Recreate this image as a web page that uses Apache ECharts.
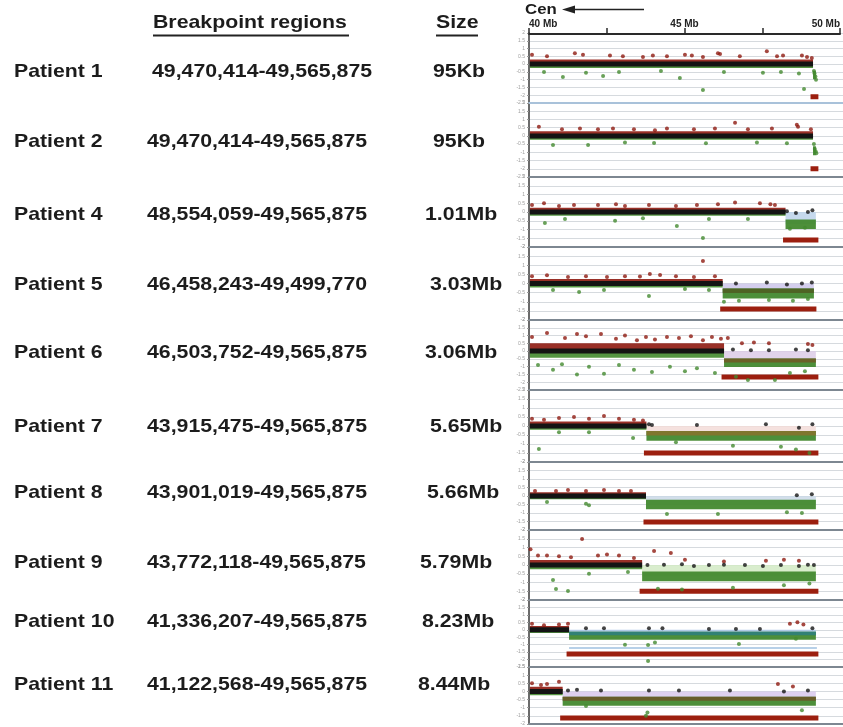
<!DOCTYPE html>
<html>
<head>
<meta charset="utf-8">
<script src="https://cdn.jsdelivr.net/npm/echarts@6/dist/echarts.min.js"></script>
<style>
  html, body { margin: 0; padding: 0; background: #ffffff; }
  #chart { width: 843px; height: 727px; }
</style>
</head>
<body>
<div id="chart"></div>
<script>
// ---- Table columns ----
const patients = ['Patient 1', 'Patient 2', 'Patient 4', 'Patient 5', 'Patient 6',
                  'Patient 7', 'Patient 8', 'Patient 9', 'Patient 10', 'Patient 11'];
const breakpointRegions = [
  '49,470,414-49,565,875', '49,470,414-49,565,875', '48,554,059-49,565,875',
  '46,458,243-49,499,770', '46,503,752-49,565,875', '43,915,475-49,565,875',
  '43,901,019-49,565,875', '43,772,118-49,565,875', '41,336,207-49,565,875',
  '41,122,568-49,565,875'];
const deletionSizes = ['95Kb', '95Kb', '1.01Mb', '3.03Mb', '3.06Mb',
                       '5.65Mb', '5.66Mb', '5.79Mb', '8.23Mb', '8.44Mb'];

// ---- Deleted segments (Mb) ----
const deletionStart = [49.470414, 49.470414, 48.554059, 46.458243, 46.503752,
                       43.915475, 43.901019, 43.772118, 41.336207, 41.122568];
const deletionEnd   = [49.565875, 49.565875, 49.565875, 49.499770, 49.565875,
                       49.565875, 49.565875, 49.565875, 49.565875, 49.565875];
// mean log2 ratio of each deleted segment
const lossLevel   = [-0.7, -0.9, -0.7, -0.55, -0.75, -0.55, -0.5, -0.65, -0.4, -0.6];
// half-width of the probe cloud around 0 in the copy-neutral part
const cloudSpread = [0.3, 0.28, 0.25, 0.25, 0.5, 0.25, 0.22, 0.28, 0.25, 0.28];
// probes covered on the array (Mb)
const probeStart = 40.03;
const probeEnd = 49.6;

// ---- Ruler ----
const rulerLabels = ['40 Mb', '45 Mb', '50 Mb'];
const rulerMarks = [40, 45, 50];

// ---- Individual probes standing out of the clouds: [Mb, log2 ratio] ----
const gainPoints = [
  [[40.1,0.6],[40.6,0.5],[41.53,0.7],[41.8,0.6],[42.7,0.55],[43.13,0.5],[43.8,0.45],[44.13,0.55],[44.6,0.5],[45.2,0.6],[45.43,0.55],[45.8,0.45],[46.3,0.7],[46.37,0.65],[47.03,0.5],[47.93,0.83],[48.27,0.5],[48.47,0.55],[49.1,0.55],[49.27,0.45],[49.43,0.4]],
  [[40.33,0.55],[41.1,0.4],[41.7,0.45],[42.3,0.4],[42.8,0.45],[43.5,0.4],[44.2,0.35],[44.6,0.45],[45.5,0.4],[46.2,0.45],[46.87,0.8],[47.3,0.4],[48.1,0.45],[48.93,0.67],[48.97,0.55],[49.4,0.4]],
  [[40.1,0.4],[40.5,0.5],[41.0,0.35],[41.5,0.4],[42.3,0.4],[42.9,0.45],[43.2,0.35],[44.0,0.4],[44.9,0.35],[45.6,0.4],[46.3,0.45],[46.87,0.55],[47.7,0.5],[48.05,0.45],[48.2,0.4]],
  [[40.1,0.4],[40.6,0.45],[41.3,0.35],[41.9,0.4],[42.6,0.35],[43.2,0.4],[43.7,0.38],[44.03,0.52],[44.37,0.47],[44.9,0.4],[45.5,0.35],[45.8,1.23],[46.2,0.4]],
  [[40.1,0.9],[40.6,1.17],[41.2,0.85],[41.6,1.1],[41.9,0.95],[42.4,1.1],[42.9,0.8],[43.2,1.0],[43.6,0.7],[43.9,0.9],[44.2,0.75],[44.6,0.9],[45.0,0.85],[45.4,0.95],[45.8,0.7],[46.1,0.9],[46.4,0.8],[46.63,0.85],[47.1,0.5],[47.5,0.55],[48.0,0.5],[49.3,0.45],[49.45,0.4]],
  [[40.1,0.4],[40.5,0.35],[41.0,0.45],[41.5,0.5],[42.0,0.4],[42.5,0.55],[43.0,0.4],[43.5,0.35],[43.8,0.3]],
  [[40.2,0.3],[40.9,0.3],[41.3,0.35],[41.9,0.3],[42.5,0.35],[43.0,0.3],[43.4,0.3]],
  [[40.05,0.9],[40.3,0.55],[40.6,0.55],[41.0,0.5],[41.4,0.45],[41.77,1.49],[42.3,0.55],[42.6,0.6],[43.0,0.55],[43.5,0.4],[44.17,0.8],[44.73,0.69],[45.2,0.3],[46.5,0.2],[47.9,0.25],[48.5,0.3],[49.0,0.25]],
  [[40.1,0.4],[40.5,0.3],[41.0,0.35],[41.3,0.4],[48.7,0.4],[48.95,0.5],[49.15,0.35]],
  [[40.1,0.5],[40.4,0.4],[40.6,0.45],[41.0,0.6],[48.3,0.45],[48.8,0.3]]
];
const lossPoints = [
  [[40.5,-0.5],[41.13,-0.83],[41.9,-0.55],[42.47,-0.77],[43.0,-0.5],[44.4,-0.45],[45.03,-0.9],[45.8,-1.67],[46.5,-0.5],[47.8,-0.55],[48.4,-0.5],[49.0,-0.6],[49.17,-1.6],[49.5,-0.45],[49.52,-0.6],[49.55,-0.8],[49.57,-1.0]],
  [[40.8,-0.55],[41.97,-0.55],[43.2,-0.4],[44.17,-0.43],[45.9,-0.45],[47.6,-0.4],[48.6,-0.45],[49.5,-0.5],[49.53,-0.8],[49.56,-0.95],[49.58,-1.05]],
  [[40.53,-0.63],[41.2,-0.4],[42.87,-0.5],[43.8,-0.35],[44.93,-0.8],[45.8,-1.49],[46.0,-0.4],[47.3,-0.4],[48.7,-0.95],[49.2,-0.9]],
  [[40.8,-0.35],[41.67,-0.47],[42.5,-0.35],[44.0,-0.68],[45.2,-0.3],[46.0,-0.35],[46.5,-1.0],[47.0,-0.95],[48.0,-0.9],[48.8,-0.95],[49.3,-0.85]],
  [[40.3,-0.9],[40.8,-1.2],[41.1,-0.85],[41.6,-1.5],[42.0,-1.0],[42.5,-1.45],[43.0,-0.9],[43.5,-1.2],[44.1,-1.35],[44.7,-1.0],[45.2,-1.3],[45.6,-1.1],[46.2,-1.4],[46.9,-1.65],[47.3,-1.85],[48.2,-1.85],[48.7,-1.4],[49.2,-1.3]],
  [[40.33,-1.28],[41.0,-0.35],[42.0,-0.35],[43.47,-0.67],[44.9,-0.9],[46.8,-1.1],[48.4,-1.15],[48.9,-1.3],[49.35,-1.5]],
  [[40.6,-0.35],[41.9,-0.45],[42.0,-0.55],[44.6,-1.06],[46.3,-1.06],[48.6,-0.95],[49.1,-1.0]],
  [[40.8,-0.85],[40.9,-1.37],[41.3,-1.49],[42.0,-0.5],[43.3,-0.4],[44.3,-1.35],[45.1,-1.4],[46.8,-1.3],[48.5,-1.15],[49.35,-1.05]],
  [[43.2,-1.0],[43.97,-1.03],[43.97,-2.1],[44.2,-0.85],[47.0,-0.95],[48.9,-0.6]],
  [[41.9,-0.9],[43.9,-1.5],[43.95,-1.3],[49.1,-1.15]]
];
const neutralPoints = [
  [],
  [],
  [[48.6,0.05],[48.9,-0.05],[49.3,0.0],[49.45,0.1]],
  [[46.9,0.0],[47.93,0.05],[48.6,-0.05],[49.1,0.0],[49.43,0.05]],
  [[46.8,0.1],[47.4,0.05],[48.0,0.05],[48.9,0.1],[49.3,0.05]],
  [[44.0,0.1],[44.1,0.05],[45.6,0.05],[47.9,0.1],[49.0,-0.1],[49.45,0.1]],
  [[48.93,0.05],[49.43,0.1]],
  [[43.95,0.0],[44.5,0.02],[45.1,0.05],[45.5,-0.05],[46.0,0.0],[46.5,0.02],[47.2,0.0],[47.8,-0.05],[48.4,0.0],[49.0,-0.05],[49.3,0.02],[49.5,0.0]],
  [[41.9,0.1],[42.5,0.1],[44.0,0.1],[44.45,0.1],[46.0,0.05],[46.9,0.05],[47.7,0.05],[49.45,0.1]],
  [[41.3,0.05],[41.6,0.1],[42.4,0.05],[44.0,0.05],[45.0,0.05],[46.7,0.05],[48.5,0.0],[49.3,0.05]]
];

// ---- Layout & styling of the panels ----
const panelTop    = [33, 103, 177, 247, 320, 390, 462, 530, 600, 667];
const panelHeight = [70, 74, 70, 73, 70, 72, 68, 70, 67, 57];
const panelYMin   = [-2.5, -2.5, -2, -2, -2.5, -2, -2, -2, -2.5, -2];
const panelYMax   = [2, 2, 2, 2, 2, 2, 2, 2, 2, 1.5];
const barLevel    = [-2.1, -2.0, -1.6, -1.4, -1.67, -1.5, -1.53, -1.5, -1.62, -1.63];
const shadeColor  = [null, null, '#bcd2ea', '#cdc6ea', '#dccbe6', '#f3dcd8', '#cad8e6', '#d2eac4', '#a9c7e8', '#d8c8ec'];
const overlayColor = [null, null, null, '#4f5e22', '#6f5c26', '#86732e', null, null, '#2f7f7c', '#6c5828'];
const tableRowY   = [72, 142, 215, 285, 353, 427, 493, 563, 622, 685];
const breakpointX = [152, 147, 147, 147, 147, 147, 147, 147, 147, 147];
const sizeX       = [433, 433, 425, 430, 425, 430, 427, 420, 422, 418];

const RED = '#8e1a10', GREEN = '#43892f', BLACK = '#141414', BAR = '#9c1f0f';
const PLOT_LEFT = 529;
const X_MAX = 50.47;

const grids = [], xAxes = [], yAxes = [], series = [];

// Ruler along the top
grids.push({ left: PLOT_LEFT, right: 0, top: 33, height: 1 });
xAxes.push({
  type: 'value', gridIndex: 0, position: 'top', min: 40, max: 50, interval: 2.5,
  axisLine: { show: true, lineStyle: { color: '#2a2a2a', width: 2 } },
  axisTick: { show: true, length: 6, lineStyle: { color: '#2a2a2a', width: 1.5 } },
  axisLabel: {
    show: true, margin: 4, fontSize: 10, fontWeight: 'bold', color: '#222',
    fontFamily: 'Liberation Sans, Arial, sans-serif',
    alignMinLabel: 'left', alignMaxLabel: 'right',
    formatter: v => { const k = rulerMarks.indexOf(v); return k >= 0 ? rulerLabels[k] : ''; }
  },
  splitLine: { show: false }
});
yAxes.push({ type: 'value', gridIndex: 0, show: false });

function band(g, x0, x1, y, color, width, z, opacity) {
  return {
    type: 'line', xAxisIndex: g, yAxisIndex: g, data: [[x0, y], [x1, y]],
    symbol: 'none', silent: true, animation: false, z: z,
    lineStyle: { color: color, width: width, cap: 'butt', opacity: opacity == null ? 1 : opacity }
  };
}

patients.forEach((name, i) => {
  const g = i + 1;
  const unitPx = panelHeight[i] / (panelYMax[i] - panelYMin[i]);
  grids.push({ left: PLOT_LEFT, right: 0, top: panelTop[i], height: panelHeight[i] });
  xAxes.push({
    type: 'value', gridIndex: g, min: 40, max: X_MAX,
    axisLine: { show: true, onZero: false, lineStyle: { color: i === 0 ? '#a9c2da' : '#7d8791', width: 2 } },
    axisTick: { show: false }, axisLabel: { show: false }, splitLine: { show: false }
  });
  yAxes.push({
    type: 'value', gridIndex: g, min: panelYMin[i], max: panelYMax[i], interval: 0.5,
    axisLine: { show: true, onZero: false, lineStyle: { color: '#3a3a3a', width: 1.5 } },
    axisTick: { show: true, length: 2, lineStyle: { color: '#999' } },
    axisLabel: { show: true, fontSize: 5, color: '#a0a0a0', margin: 4 },
    splitLine: { show: true, lineStyle: { color: '#d6dade', width: 1 } }
  });

  const s = cloudSpread[i];
  const bp = deletionStart[i];
  const lv = lossLevel[i];

  // copy-neutral probe cloud: gains above, losses below, dense core at 0
  series.push(band(g, probeStart, bp, s * 0.5, RED, s * unitPx, 3, 0.9));
  series.push(band(g, probeStart, bp, -s * 0.45, GREEN, s * unitPx * 0.8, 3, 0.9));
  series.push(band(g, probeStart, bp, 0, BLACK, 5, 4));

  // deleted segment: shaded mean and its probe cloud
  const loss = band(g, bp, deletionEnd[i], lv, GREEN, 0.55 * unitPx, 3, 0.95);
  if (shadeColor[i]) {
    loss.markArea = {
      silent: true,
      itemStyle: { color: shadeColor[i], opacity: 0.85 },
      data: [[{ coord: [bp, 0] }, { coord: [deletionEnd[i], lv] }]]
    };
  }
  series.push(loss);
  if (overlayColor[i]) {
    series.push(band(g, bp, deletionEnd[i], lv + 0.15, overlayColor[i], 0.25 * unitPx, 3, 0.9));
  }

  // extra segment line shown for patient 10
  if (i === 8) {
    series.push(band(g, bp, probeEnd, -1.22, '#9fc0e0', 1.5, 2));
  }

  // deletion bar
  series.push({
    type: 'line', xAxisIndex: g, yAxisIndex: g,
    data: [[deletionStart[i], barLevel[i]], [deletionEnd[i], barLevel[i]]],
    symbol: 'none', silent: true, animation: false, z: 5,
    lineStyle: { color: BAR, width: 5, cap: 'square' }
  });

  // individual probes
  [[gainPoints[i], RED], [lossPoints[i], GREEN], [neutralPoints[i], BLACK]].forEach(([pts, c]) => {
    series.push({
      type: 'scatter', xAxisIndex: g, yAxisIndex: g, data: pts,
      symbol: 'circle', symbolSize: 4, silent: true, animation: false, z: 6,
      itemStyle: { color: c }
    });
  });
});

// ---- Table text and header ----
const FONT = 'Liberation Sans, Arial, Helvetica, sans-serif';
const STRETCH = 1.12;
function txt(str, x, y, size) {
  return {
    type: 'text', x: x, y: y, scaleX: STRETCH, silent: true,
    style: { text: str, x: 0, y: 0, fill: '#1c1c1c', font: 'bold ' + size + 'px ' + FONT, textVerticalAlign: 'middle' }
  };
}
const graphics = [];
graphics.push(txt('Breakpoint regions', 153, 23, 19));
graphics.push(txt('Size', 436, 23, 19));
graphics.push({ type: 'line', silent: true, shape: { x1: 153, y1: 35.5, x2: 349, y2: 35.5 }, style: { stroke: '#222', lineWidth: 2 } });
graphics.push({ type: 'line', silent: true, shape: { x1: 436, y1: 35.5, x2: 478, y2: 35.5 }, style: { stroke: '#222', lineWidth: 2 } });
patients.forEach((p, i) => {
  graphics.push(txt(p, 14, tableRowY[i], 19));
  graphics.push(txt(breakpointRegions[i], breakpointX[i], tableRowY[i], 19));
  graphics.push(txt(deletionSizes[i], sizeX[i], tableRowY[i], 19));
});
// centromere direction
graphics.push(txt('Cen', 525, 10, 15));
graphics.push({ type: 'line', silent: true, shape: { x1: 572, y1: 9.5, x2: 644, y2: 9.5 }, style: { stroke: '#222', lineWidth: 1.5 } });
graphics.push({ type: 'polygon', silent: true, shape: { points: [[562, 9.5], [575, 5.5], [575, 13.5]] }, style: { fill: '#222' } });

const chart = echarts.init(document.getElementById('chart'), null, { renderer: 'canvas' });
chart.setOption({
  backgroundColor: '#ffffff',
  animation: false,
  grid: grids,
  xAxis: xAxes,
  yAxis: yAxes,
  series: series,
  graphic: graphics
});
</script>
</body>
</html>
